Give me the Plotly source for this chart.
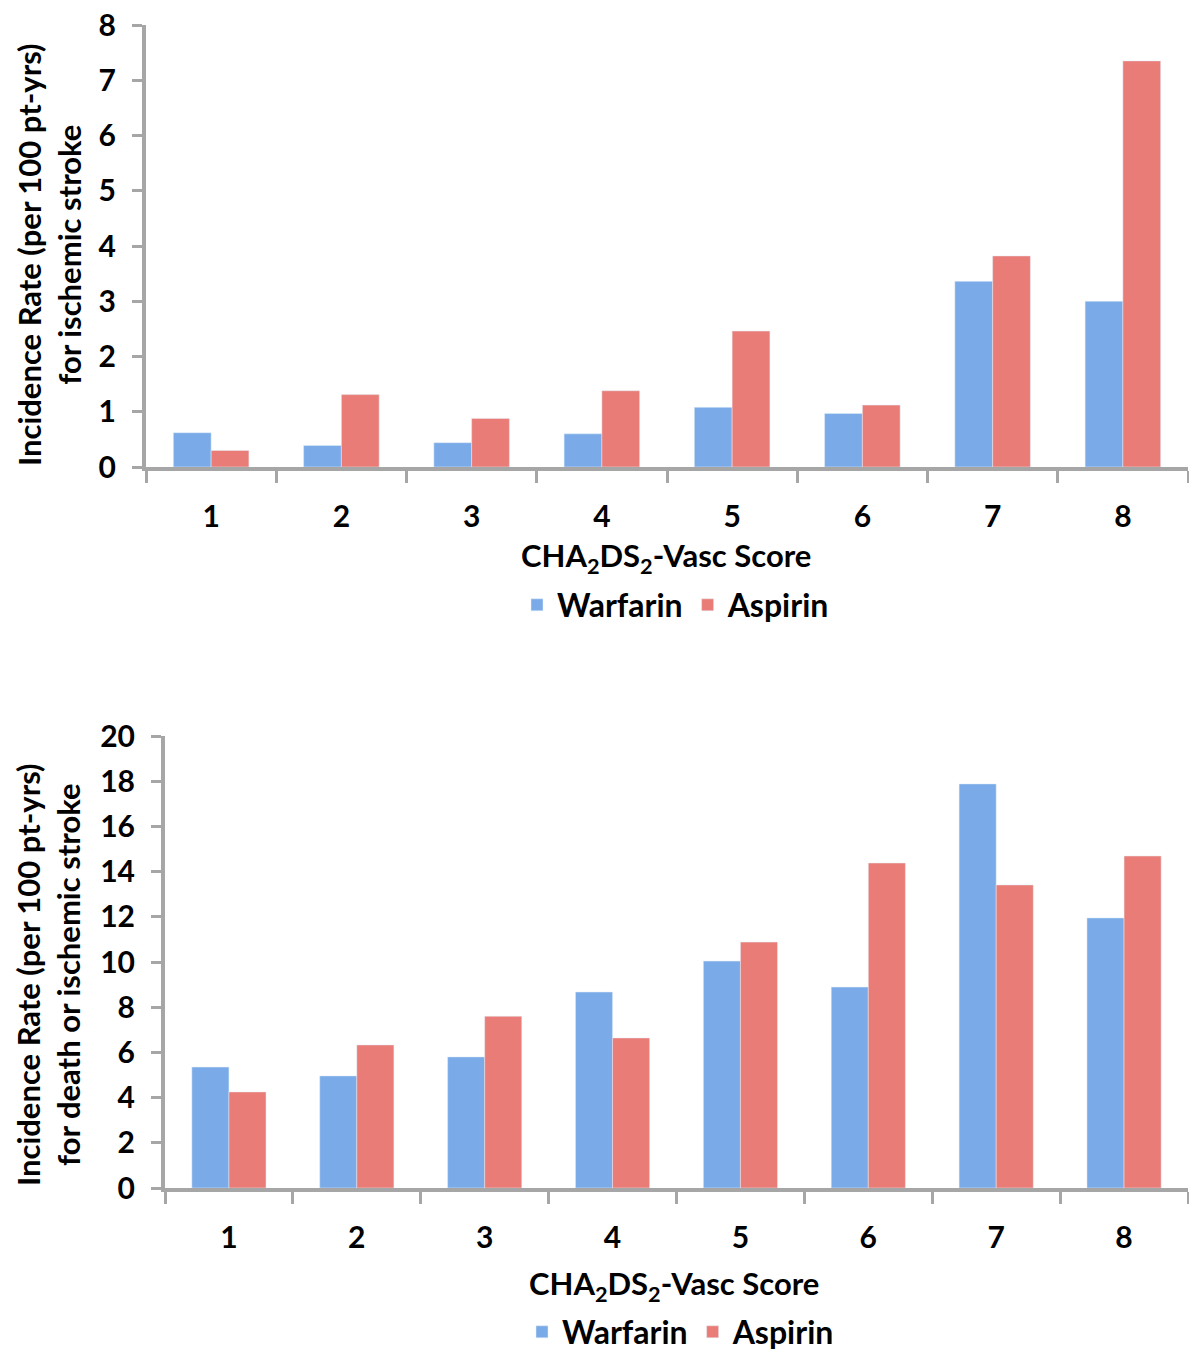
import plotly.graph_objects as go

scores = ["1", "2", "3", "4", "5", "6", "7", "8"]
stroke_warfarin = [0.62, 0.39, 0.44, 0.60, 1.08, 0.97, 3.36, 3.00]
stroke_aspirin = [0.30, 1.31, 0.88, 1.38, 2.46, 1.12, 3.82, 7.35]
death_warfarin = [5.35, 4.96, 5.80, 8.67, 10.04, 8.89, 17.88, 11.95]
death_aspirin = [4.25, 6.33, 7.60, 6.64, 10.88, 14.38, 13.41, 14.69]

BLUE = "#7AABE8"
RED = "#E97C76"
AXIS = "#A6A6A6"
FONT = "Lato"

OFF = 8  # default page body margin
W, H = 1197 - OFF, 1353 - OFF

def fx(p):
    return (p - OFF) / W

def fy(p):
    return 1 - (p - OFF) / H

fig = go.Figure()
fig.add_trace(go.Bar(x=scores, y=stroke_warfarin, name="Warfarin", marker_color=BLUE,
                     xaxis="x", yaxis="y", legend="legend"))
fig.add_trace(go.Bar(x=scores, y=stroke_aspirin, name="Aspirin", marker_color=RED,
                     xaxis="x", yaxis="y", legend="legend"))
fig.add_trace(go.Bar(x=scores, y=death_warfarin, name="Warfarin", marker_color=BLUE,
                     xaxis="x2", yaxis="y2", legend="legend2"))
fig.add_trace(go.Bar(x=scores, y=death_aspirin, name="Aspirin", marker_color=RED,
                     xaxis="x2", yaxis="y2", legend="legend2"))

tickfont = dict(family=FONT, size=30, color="black", weight="bold")

xcommon = dict(showline=True, linecolor=AXIS, linewidth=4, ticks="outside",
               tickson="boundaries", ticklen=12, tickwidth=3, tickcolor=AXIS,
               tickfont=tickfont, showgrid=False, zeroline=False, ticklabelstandoff=20,
               automargin=False, ticklabeloverflow="allow")
ycommon = dict(showline=True, linecolor=AXIS, linewidth=4, ticks="outside",
               ticklen=10, tickwidth=3, tickcolor=AXIS, tickfont=tickfont,
               showgrid=False, zeroline=False, ticklabelstandoff=10, automargin=False,
               ticklabeloverflow="allow")

legend_font = dict(family=FONT, size=32, color="black", weight="bold")

fig.update_layout(
    width=W, height=H,
    margin=dict(l=0, r=0, t=0, b=0, autoexpand=False),
    paper_bgcolor="white", plot_bgcolor="white",
    barmode="group", bargap=0.42, bargroupgap=0,
    xaxis=dict(domain=[fx(146), fx(1188)], anchor="y", **xcommon),
    yaxis=dict(domain=[fy(467), fy(25)], anchor="x", range=[0, 8], dtick=1, **ycommon),
    xaxis2=dict(domain=[fx(165), fx(1188)], anchor="y2", **xcommon),
    yaxis2=dict(domain=[fy(1188), fy(736)], anchor="x2", range=[0, 20], dtick=2, **ycommon),
    legend=dict(orientation="h", x=fx(676), xanchor="center", y=fy(605), yanchor="middle",
                font=legend_font, itemwidth=30, traceorder="normal", bgcolor="rgba(0,0,0,0)"),
    legend2=dict(orientation="h", x=fx(681), xanchor="center", y=fy(1332), yanchor="middle",
                 font=legend_font, itemwidth=30, traceorder="normal", bgcolor="rgba(0,0,0,0)"),
    showlegend=True,
)

title_font = dict(family=FONT, size=31, color="black", weight="bold")
ytitle_font = dict(family=FONT, size=31, color="black", weight="bold")

annotations = [
    dict(text="CHA<sub>2</sub>DS<sub>2</sub>-Vasc Score", x=fx(666), y=fy(557),
         xref="paper", yref="paper", showarrow=False, font=title_font, yanchor="middle"),
    dict(text="CHA<sub>2</sub>DS<sub>2</sub>-Vasc Score", x=fx(674), y=fy(1285),
         xref="paper", yref="paper", showarrow=False, font=title_font, yanchor="middle"),
    dict(text="Incidence Rate (per 100 pt-yrs)<br>for ischemic stroke", x=fx(49), y=fy(255),
         xref="paper", yref="paper", showarrow=False, textangle=-90, font=ytitle_font,
         xanchor="center", yanchor="middle"),
    dict(text="Incidence Rate (per 100 pt-yrs)<br>for death or ischemic stroke", x=fx(48), y=fy(975),
         xref="paper", yref="paper", showarrow=False, textangle=-90, font=ytitle_font,
         xanchor="center", yanchor="middle"),
]
fig.update_layout(annotations=annotations)

fig.write_html("out.html")
